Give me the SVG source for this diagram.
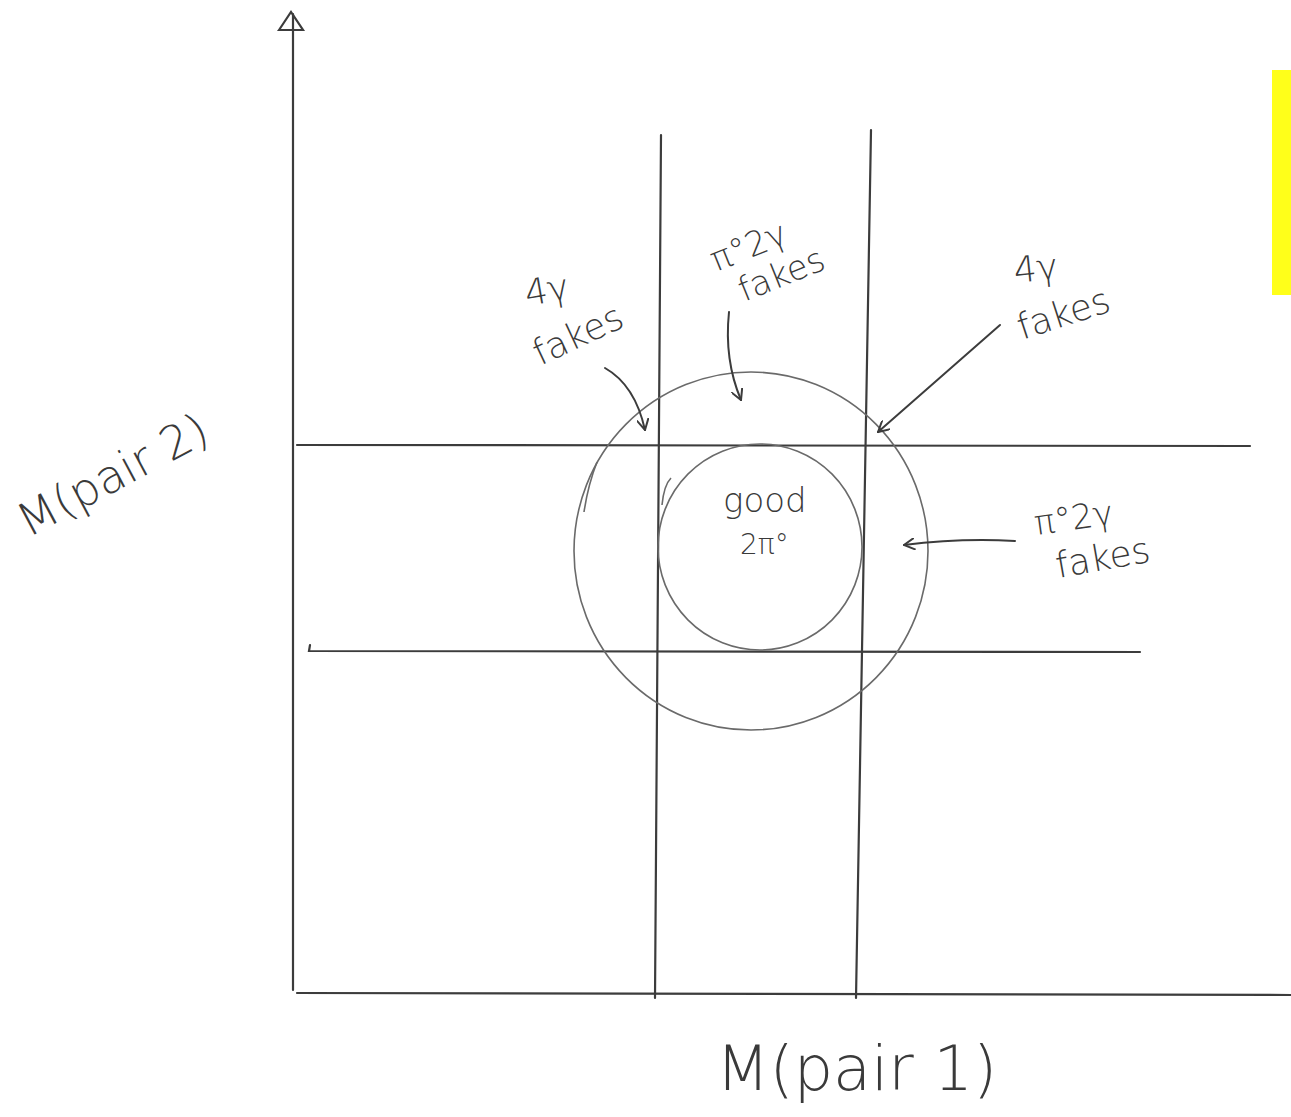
<svg xmlns="http://www.w3.org/2000/svg" width="1291" height="1117" viewBox="0 0 1291 1117">
<defs>
<style>
.ln{stroke:#3c3c3c;stroke-width:2.2;fill:none;stroke-linecap:round}
.cl{stroke:#6a6a6a;stroke-width:1.6;fill:none}
.ar{stroke:#3c3c3c;stroke-width:2;fill:none;stroke-linecap:round}
.tx{font-family:"DejaVu Sans",sans-serif;fill:#3a3a3a;font-weight:300}
</style>
<marker id="ah" viewBox="0 0 12 12" refX="11" refY="6" markerWidth="12" markerHeight="12" markerUnits="userSpaceOnUse" orient="auto">
<path d="M0,0 L11,6 L0,12" fill="none" stroke="#3c3c3c" stroke-width="2"/>
</marker>
</defs>
<rect width="1291" height="1117" fill="#ffffff"/>
<rect x="1272" y="70" width="19" height="225" fill="#ffff1a"/>

<g id="axes">
<line class="ln" x1="293" y1="14" x2="293" y2="990"/>
<path class="ln" d="M279,30 L291,12 L303,30 Z"/>
<line class="ln" x1="297" y1="993" x2="1291" y2="995"/>
</g>

<g id="grid-lines">
<line class="ln" x1="661" y1="135" x2="655" y2="998"/>
<line class="ln" x1="871" y1="130" x2="856" y2="998"/>
<line class="ln" x1="297" y1="445" x2="1250" y2="446"/>
<path class="ln" d="M310,645 L309,651 L1140,652"/>
</g>

<g id="outer-circle">
<ellipse class="cl" cx="751" cy="551" rx="177" ry="179"/>
</g>
<g id="inner-circle">
<ellipse class="cl" cx="760" cy="547" rx="102" ry="103"/>
</g>
<g id="marks">
<path class="cl" d="M597,462 Q588,485 584,512"/>
<path class="cl" d="M671,478 Q664,485 662,505"/>
</g>

<g id="connectors">
<path class="ar" marker-end="url(#ah)" d="M605,368 Q635,385 645,430"/>
<path class="ar" marker-end="url(#ah)" d="M729,312 Q724,360 741,400"/>
<path class="ar" marker-end="url(#ah)" d="M1000,325 L878,432"/>
<path class="ar" marker-end="url(#ah)" d="M1015,541 Q960,538 904,545"/>
</g>

<g id="label-4g-left">
<text class="tx" font-size="36" transform="translate(527,306) rotate(-10)">4γ</text>
<text class="tx" font-size="36" transform="translate(540,366) rotate(-25)">fakes</text>
</g>
<g id="label-pi-top">
<text class="tx" font-size="34" transform="translate(716,272) rotate(-22)">π°2γ</text>
<text class="tx" font-size="34" transform="translate(744,302) rotate(-22)">fakes</text>
</g>
<g id="label-4g-right">
<text class="tx" font-size="36" transform="translate(1015,283) rotate(-6)">4γ</text>
<text class="tx" font-size="36" transform="translate(1022,340) rotate(-18)">fakes</text>
</g>
<g id="label-pi-right">
<text class="tx" font-size="34" transform="translate(1036,535) rotate(-8)">π°2γ</text>
<text class="tx" font-size="36" transform="translate(1058,578) rotate(-10)">fakes</text>
</g>
<g id="label-good">
<text class="tx" font-size="34" x="723" y="512">good</text>
<text class="tx" font-size="28" x="740" y="554">2π°</text>
</g>
<g id="label-y">
<text class="tx" font-size="46" transform="translate(28,538) rotate(-28)">M(pair 2)</text>
</g>
<g id="label-x">
<text class="tx" font-size="62" x="716" y="1090">M(pair 1)</text>
</g>
</svg>
